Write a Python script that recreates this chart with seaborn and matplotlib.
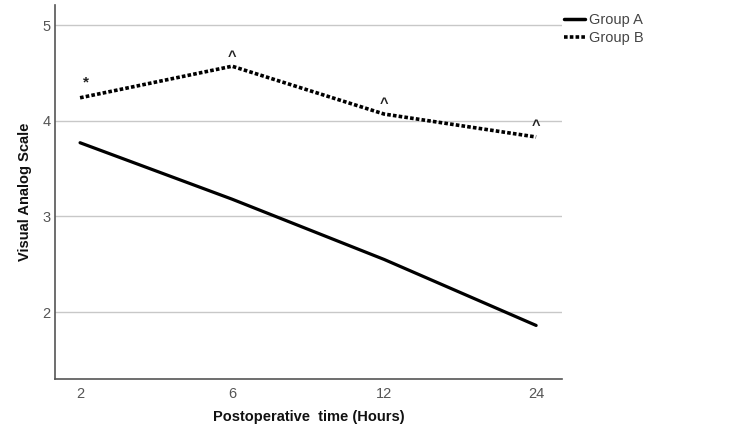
import pandas as pd
import matplotlib.pyplot as plt
import seaborn as sns

# Données
heures = ['2', '6', '12', '24']
groupe_a = [3.77, 3.18, 2.55, 1.86]
groupe_b = [4.24, 4.57, 4.07, 3.83]
marques_b = ['*', '^', '^', '^']

sns.set_theme(style='white')
plt.rcParams['font.family'] = ['Liberation Sans', 'DejaVu Sans']

pos = list(range(len(heures)))
df = pd.DataFrame({
    'pos': pos * 2,
    'vas': groupe_a + groupe_b,
    'groupe': ['Group A'] * 4 + ['Group B'] * 4,
})

fig = plt.figure(figsize=(7.5, 4.42), dpi=100)
ax = fig.add_axes([0.0733, 0.1425, 0.6760, 0.8462])

sns.lineplot(data=df, x='pos', y='vas', hue='groupe', style='groupe',
             palette=['black', 'black'], dashes=[(None, None), (1, 0.6)],
             linewidth=2.3, ax=ax, legend=False)
ax.lines[1].set_linestyle((0, (1, 0.6)))
ax.lines[1].set_linewidth(2.6)

# Marques de significativité
decal = [0.16, 0.10, 0.11, 0.11]
for x, y, m, d in zip(pos, groupe_b, marques_b, decal):
    ax.text(x + (0.04 if m == '*' else 0), y + d, m, ha='center', va='center',
            fontsize=11 if m == '*' else 10.5, color='#222222', fontweight='bold')

ax.set_xlim(-0.165, 3.17)
ax.set_ylim(1.3, 5.21)
ax.set_xticks(pos)
ax.set_xticklabels(heures)
ax.set_yticks([2, 3, 4, 5])
ax.yaxis.grid(True, color='#c8c8c8', linewidth=1)
ax.set_axisbelow(True)
ax.tick_params(axis='x', length=0, labelsize=10.5, labelcolor='#555555', pad=6)
ax.tick_params(axis='y', length=0, labelsize=10.5, labelcolor='#555555', pad=3)
for s in ['top', 'right']:
    ax.spines[s].set_visible(False)
for s in ['left', 'bottom']:
    ax.spines[s].set_color('#555555')
    ax.spines[s].set_linewidth(1.2)

ax.set_xlabel('Postoperative  time (Hours)', fontsize=10.5, fontweight='bold',
              color='#111111', labelpad=6)
ax.set_ylabel('Visual Analog Scale', fontsize=10.5, fontweight='bold',
              color='#111111')
ax.yaxis.set_label_coords(-0.045, 0.5)

# Légende à droite
poignees = [plt.Line2D([], [], color='black', linewidth=2.5),
            plt.Line2D([], [], color='black', linewidth=2.6, linestyle=(0, (1, 0.6)))]
fig.legend(poignees, ['Group A', 'Group B'], loc='upper left',
           bbox_to_anchor=(0.735, 1.0), frameon=False, fontsize=10.5,
           handlelength=1.4, handletextpad=0.3, labelspacing=0.25,
           labelcolor='#444444')

fig.savefig('out.png', dpi=100)
